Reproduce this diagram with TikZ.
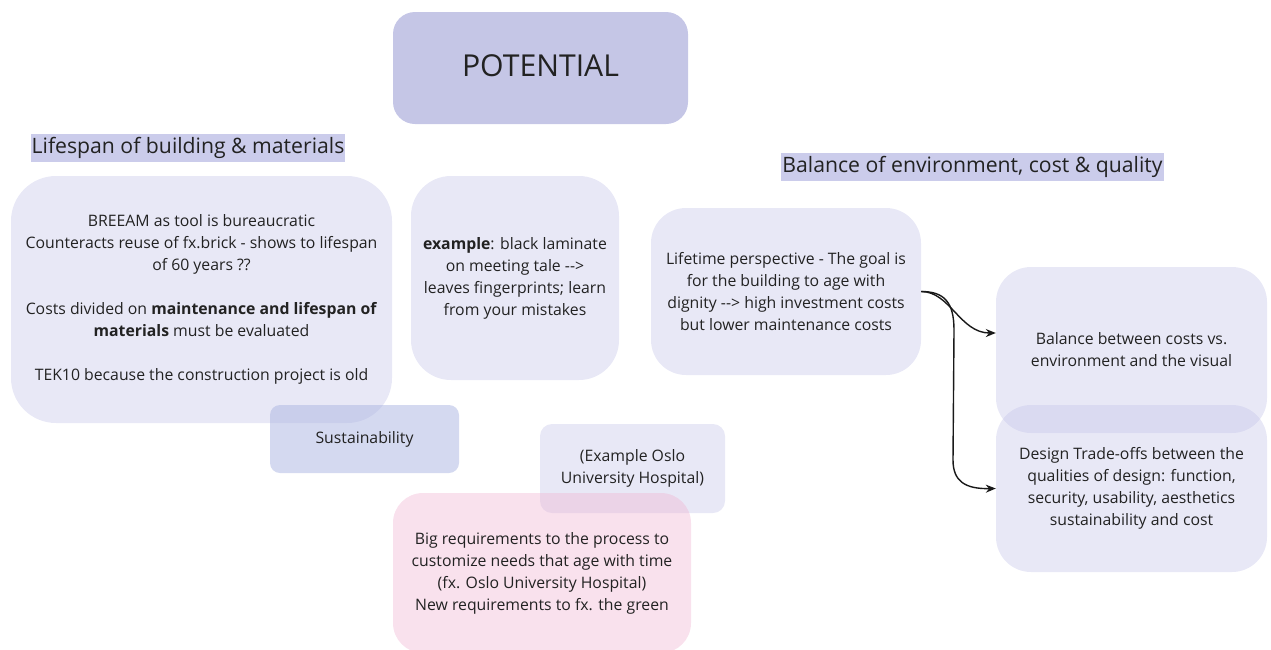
\documentclass[tikz,border=0pt]{standalone}
\usepackage{fontspec}
\setmainfont{Open Sans}
\usetikzlibrary{arrows.meta}
\definecolor{ink}{HTML}{222222}
\definecolor{lav}{RGB}{190,190,230}
\definecolor{sust}{RGB}{170,180,225}
\definecolor{rose}{RGB}{240,180,210}
\definecolor{potfill}{HTML}{C5C6E6}
\definecolor{hl}{HTML}{CBCCEB}
\tikzset{
  bodyfont/.style={font=\fontsize{15.8}{22}\selectfont},
  card/.style={rounded corners=#1, fill=lav, fill opacity=0.35, text opacity=1,
    text=ink, inner sep=0pt, align=center, bodyfont},
  card/.default=40pt,
  susbox/.style={rounded corners=10pt, fill=sust, fill opacity=0.5, text opacity=1,
    text=ink, inner sep=0pt, align=center, bodyfont},
  rosebox/.style={rounded corners=30pt, fill=rose, fill opacity=0.4, text opacity=1,
    text=ink, inner sep=0pt, align=center, bodyfont},
  heading/.style={fill=hl, text=ink, inner xsep=1pt, inner ysep=3pt,
    font=\fontsize{21.2}{24}\selectfont},
  link/.style={draw=black!90, line width=1.4pt, -{Stealth[length=10pt,width=8pt]}},
}
\begin{document}
\begin{tikzpicture}[x=1pt,y=-1pt]
\useasboundingbox (0,0) rectangle (1271,649);
\begin{scope}
\clip (0,0) rectangle (1271,649);

% title
\node[rounded corners=22pt, fill=potfill, minimum width=295pt, minimum height=112pt] (pot) at (540.5,68) {};
\node[text=ink, font=\fontsize{30.2}{34}\selectfont] (pottext) at (540.5,66) {POTENTIAL};

% section headings
\node[heading] (h1) at (188,148) {Lifespan of building \& materials};
\node[heading] (h2) at (972.5,167) {Balance of environment, cost \& quality};

% left column
\node[card=45pt, minimum width=381pt, minimum height=247pt] (breeam) at (201.5,299.5)
  {BREEAM as tool is bureaucratic\\
   Counteracts reuse of fx.brick - shows to lifespan\\
   of 60 years ??\\[22pt]
   Costs divided on \textbf{maintenance and lifespan of}\\
   \textbf{materials} must be evaluated\\[22pt]
   TEK10 because the construction project is old};
\node[susbox, minimum width=189pt, minimum height=68pt] (sus) at (364.5,439) {Sustainability};

\node[card, minimum width=208pt, minimum height=204pt] (ex) at (515,278)
  {\textbf{example}: black laminate\\
   on meeting tale {-}{-}>\\
   leaves fingerprints; learn\\
   from your mistakes};

% hospital notes
\node[card=12pt, minimum width=185pt, minimum height=89pt] (oslo) at (632.5,468.5)
  {(Example Oslo\\ University Hospital)};
\node[rosebox, minimum width=298pt, minimum height=160pt] (req) at (542,573)
  {Big requirements to the process to\\
   customize needs that age with time\\
   (fx. Oslo University Hospital)\\
   New requirements to fx. the green};

% right column
\node[card=35pt, minimum width=270pt, minimum height=167pt] (life) at (786,291.5)
  {Lifetime perspective - The goal is\\
   for the building to age with\\
   dignity {-}{-}> high investment costs\\
   but lower maintenance costs};
\node[card=35pt, minimum width=271pt, minimum height=166pt] (bal) at (1131.5,350)
  {Balance between costs vs.\\ environment and the visual};
\node[card=35pt, minimum width=271pt, minimum height=167pt] (des) at (1131.5,488.5)
  {Design Trade-offs between the\\
   qualities of design: function,\\
   security, usability, aesthetics\\
   sustainability and cost};
\end{scope}

% connectors
\coordinate (bend1) at (954,330);
\coordinate (bend2) at (953,460);
\draw[link] (life.east) .. controls (950,291.5) and (960,333) .. ([yshift=17pt]bal.west);
\draw[link] (life.east) .. controls (944,291.5) and (954,302) .. (bend1) -- (bend2)
  .. controls (953,482) and (966,489) .. (des.west);
\end{tikzpicture}
\end{document}
